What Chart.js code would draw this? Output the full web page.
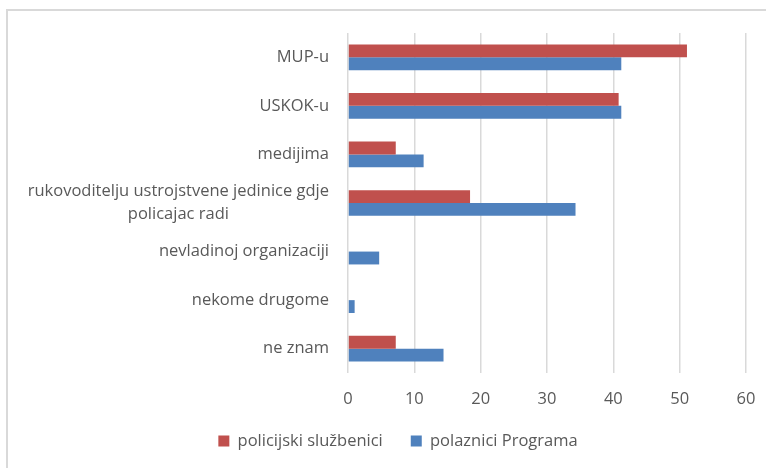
<!DOCTYPE html>
<html>
<head>
<meta charset="utf-8">
<script src="https://cdn.jsdelivr.net/npm/chart.js@4"></script>
<style>
  html, body { margin: 0; padding: 0; background: #fff; }
  #wrap { position: relative; width: 766px; height: 468px; overflow: hidden; }
  #frame { position: absolute; left: 6px; top: 9px; width: 800px; height: 500px;
           border-top: 2px solid #d9d9d9; border-left: 2px solid #d9d9d9; }
  canvas { position: absolute; left: 0; top: 0; }
</style>
</head>
<body>
<div id="wrap">
  <div id="frame"></div>
  <canvas id="c" width="766" height="468"></canvas>
</div>
<script>
const categories = [
  'MUP-u',
  'USKOK-u',
  'medijima',
  ['rukovoditelju ustrojstvene jedinice gdje', 'policajac radi'],
  'nevladinoj organizaciji',
  'nekome drugome',
  'ne znam'
];
const seriesNames = ['policijski službenici', 'polaznici Programa'];
const policijskiSluzbenici = [51.1, 40.8, 7.2, 18.4, 0, 0, 7.2];
const polazniciPrograma = [41.2, 41.2, 11.4, 34.3, 4.7, 1.0, 14.4];
const xTicks = [0, 10, 20, 30, 40, 50, 60];

const FONT = '"Open Sans", sans-serif';
const FS = 16.5;
const TEXT = '#595959';
const LEFT_PAD = 50;
const PLOT_LEFT = 348;
const LABEL_RIGHT = 329;
const LINE_H = 23;

const yLabelPlugin = {
  id: 'yLabels',
  afterDraw(chart) {
    const ctx = chart.ctx;
    const s = chart.scales.y;
    ctx.save();
    ctx.font = FS + 'px ' + FONT;
    ctx.fillStyle = TEXT;
    ctx.textBaseline = 'middle';
    ctx.textAlign = 'center';
    categories.forEach((lab, i) => {
      const y = s.getPixelForTick(i);
      const lines = Array.isArray(lab) ? lab : [lab];
      const w = Math.max(...lines.map(l => ctx.measureText(l).width));
      const cx = LABEL_RIGHT - w / 2;
      lines.forEach((l, j) => ctx.fillText(l, cx, y + (j - (lines.length - 1) / 2) * LINE_H));
    });
    ctx.restore();
  }
};

new Chart(document.getElementById('c'), {
  type: 'bar',
  data: {
    labels: categories.map(c => Array.isArray(c) ? c.join(' ') : c),
    datasets: [
      { label: seriesNames[0], data: policijskiSluzbenici, backgroundColor: '#C0504D',
        categoryPercentage: 0.53, barPercentage: 1.0 },
      { label: seriesNames[1], data: polazniciPrograma, backgroundColor: '#4F81BD',
        categoryPercentage: 0.53, barPercentage: 1.0 }
    ]
  },
  options: {
    indexAxis: 'y',
    responsive: false,
    animation: false,
    layout: { padding: { top: 33, right: 20, bottom: 8.75, left: LEFT_PAD } },
    plugins: {
      tooltip: { enabled: false },
      legend: {
        position: 'bottom',
        labels: {
          boxWidth: 11, boxHeight: 11, padding: 28,
          color: TEXT, font: { family: FONT, size: FS }
        }
      }
    },
    scales: {
      x: {
        min: 0, max: 60,
        afterBuildTicks(axis) { axis.ticks = xTicks.map(v => ({ value: v })); },
        afterFit(axis) { axis.height = 31.75; axis.paddingLeft = 0; axis.paddingRight = 0; },
        ticks: { color: TEXT, font: { family: FONT, size: FS }, padding: 16.1 },
        grid: { color: '#d9d9d9', lineWidth: 1.5, drawTicks: false },
        border: { display: false }
      },
      y: {
        ticks: { display: false },
        grid: { display: false },
        border: { display: false },
        afterFit(axis) { axis.width = PLOT_LEFT - LEFT_PAD; }
      }
    }
  },
  plugins: [yLabelPlugin]
});
</script>
</body>
</html>
